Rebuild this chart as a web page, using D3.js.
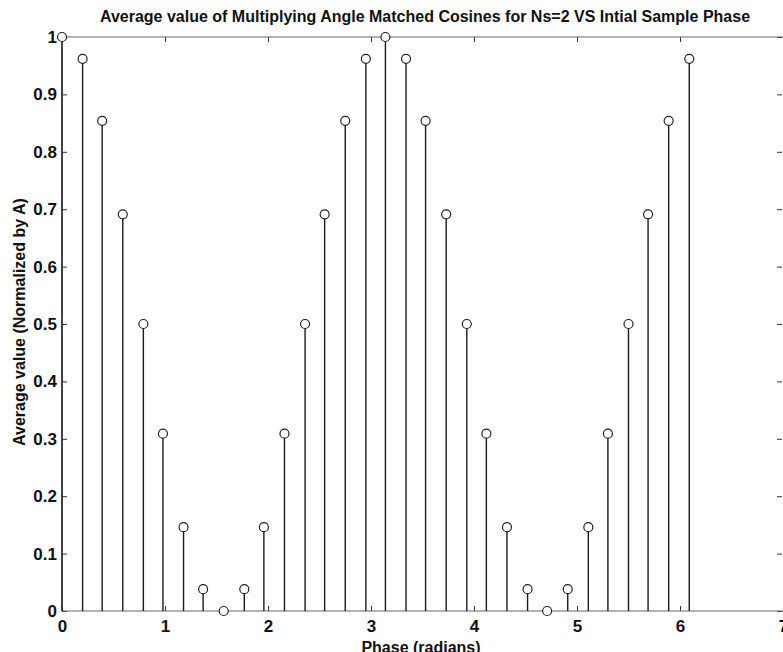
<!DOCTYPE html>
<meta charset="utf-8">
<style>
body { margin: 0; background: #fff; }
text { font-family: "Liberation Sans", Arial, sans-serif; fill: #111; }
.stem { stroke: #1a1a1a; stroke-width: 1.4px; }
.mark { fill: #fff; stroke: #222; stroke-width: 1.2px; }
.box { stroke: #666; stroke-width: 1.2px; fill: none; }
.tick line { stroke: #333; }
</style>
<body>
<script src="https://cdnjs.cloudflare.com/ajax/libs/d3/7.8.5/d3.min.js"></script>
<script>

var width = 783,
    height = 652;

// phase of each sample (radians)
var phase = [0, 0.20, 0.39, 0.59, 0.79, 0.98, 1.18, 1.37, 1.57, 1.77, 1.96, 2.16,
             2.36, 2.55, 2.75, 2.95, 3.14, 3.34, 3.53, 3.73, 3.93, 4.12, 4.32, 4.52,
             4.71, 4.91, 5.11, 5.30, 5.50, 5.69, 5.89, 6.09];
// average value, normalized by A
var avgValue = [1, 0.962, 0.854, 0.691, 0.5, 0.309, 0.146, 0.038, 0, 0.038, 0.146, 0.309,
                0.5, 0.691, 0.854, 0.962, 1, 0.962, 0.854, 0.691, 0.5, 0.309, 0.146, 0.038,
                0, 0.038, 0.146, 0.309, 0.5, 0.691, 0.854, 0.962];

var xTicks = [0, 1, 2, 3, 4, 5, 6, 7];
var yTicks = [0, 0.1, 0.2, 0.3, 0.4, 0.5, 0.6, 0.7, 0.8, 0.9, 1];

// plot box (window.top is reserved, so use other names)
var pLeft = 62, pRight = 783, pTop = 37, pBottom = 611;

var x = d3.scaleLinear().domain([0, 7]).range([pLeft, pRight]);
var y = d3.scaleLinear().domain([0, 1]).range([pBottom, pTop]);

var svg = d3.select("body").append("svg")
    .attr("width", width)
    .attr("height", height);

// axes with inward ticks
svg.append("g")
    .attr("transform", "translate(0," + pBottom + ")")
    .call(d3.axisBottom(x).tickValues(xTicks).tickFormat(d3.format("d"))
        .tickSizeInner(-5).tickSizeOuter(0).tickPadding(9));
svg.append("g")
    .attr("transform", "translate(" + pLeft + ",0)")
    .call(d3.axisLeft(y).tickValues(yTicks)
        .tickFormat(function(d) { return d === 0 || d === 1 ? d3.format("d")(d) : d3.format(".1f")(d); })
        .tickSizeInner(-5).tickSizeOuter(0).tickPadding(5));
svg.append("g")
    .attr("transform", "translate(0," + pTop + ")")
    .call(d3.axisTop(x).tickValues(xTicks).tickFormat("").tickSizeInner(-5).tickSizeOuter(0));
svg.append("g")
    .attr("transform", "translate(" + (pRight - 1) + ",0)")
    .call(d3.axisRight(y).tickValues(yTicks).tickFormat("").tickSizeInner(-5).tickSizeOuter(0));

svg.selectAll(".domain").remove();
svg.selectAll("g text")
    .style("font-size", "17px")
    .style("font-weight", "bold")
    .style("fill", "#111");

svg.append("path")
    .attr("class", "box")
    .attr("d", "M" + pRight + "," + pTop + "H" + pLeft + "V" + pBottom + "H" + pRight);

// stems
svg.selectAll("line.stem")
    .data(phase)
    .enter().append("line")
    .attr("class", "stem")
    .attr("x1", function(d) { return x(d); })
    .attr("x2", function(d) { return x(d); })
    .attr("y1", y(0))
    .attr("y2", function(d, i) { return y(avgValue[i]); });

svg.selectAll("circle.mark")
    .data(phase)
    .enter().append("circle")
    .attr("class", "mark")
    .attr("cx", function(d) { return x(d); })
    .attr("cy", function(d, i) { return y(avgValue[i]); })
    .attr("r", 4.5);

// labels
svg.append("text")
    .attr("x", 425)
    .attr("y", 22)
    .attr("text-anchor", "middle")
    .style("font-size", "16px")
    .style("font-weight", "bold")
    .text("Average value of Multiplying Angle Matched Cosines for Ns=2 VS Intial Sample Phase");

svg.append("text")
    .attr("x", 421)
    .attr("y", 653)
    .attr("text-anchor", "middle")
    .style("font-size", "16px")
    .style("font-weight", "bold")
    .text("Phase (radians)");

svg.append("text")
    .attr("transform", "translate(25,322) rotate(-90)")
    .attr("text-anchor", "middle")
    .style("font-size", "16px")
    .style("font-weight", "bold")
    .text("Average value (Normalized by A)");

</script>
